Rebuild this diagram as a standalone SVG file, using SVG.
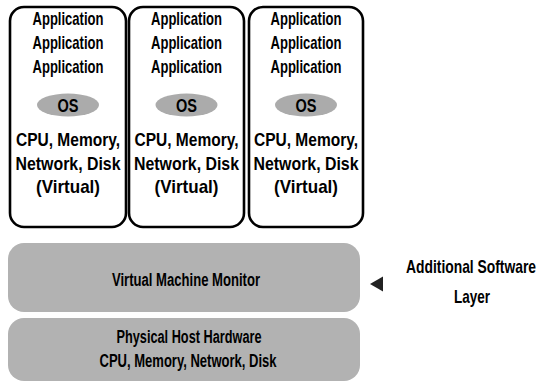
<svg xmlns="http://www.w3.org/2000/svg" width="549" height="388" viewBox="0 0 549 388">
<style>
.vm{fill:#fff;stroke:#000;stroke-width:2.6}
.pill{fill:#ababab}
.band{fill:#b2b2b2}
text{font-family:"Liberation Sans","DejaVu Sans",sans-serif;font-weight:bold;fill:#000;text-anchor:middle}
.t{font-size:19px}
.s{font-size:18px}
</style>
<rect width="549" height="388" fill="#fff"/>
<g id="vm1">
<rect class="vm" x="10" y="7" width="116" height="220" rx="14"/>
<text class="t" x="68" y="25" textLength="71" lengthAdjust="spacingAndGlyphs">Application</text>
<text class="t" x="68" y="49" textLength="71" lengthAdjust="spacingAndGlyphs">Application</text>
<text class="t" x="68" y="73" textLength="71" lengthAdjust="spacingAndGlyphs">Application</text>
<ellipse class="pill" cx="68" cy="105" rx="31" ry="11.5"/>
<text class="t" x="68" y="111.5" textLength="21" lengthAdjust="spacingAndGlyphs">OS</text>
<text class="t" x="68" y="146" textLength="104" lengthAdjust="spacingAndGlyphs">CPU, Memory,</text>
<text class="t" x="68" y="170" textLength="105" lengthAdjust="spacingAndGlyphs">Network, Disk</text>
<text class="t" x="68" y="193" textLength="64" lengthAdjust="spacingAndGlyphs">(Virtual)</text>
</g>
<g id="vm2">
<rect class="vm" x="129" y="7" width="115" height="220" rx="14"/>
<text class="t" x="186.5" y="25" textLength="71" lengthAdjust="spacingAndGlyphs">Application</text>
<text class="t" x="186.5" y="49" textLength="71" lengthAdjust="spacingAndGlyphs">Application</text>
<text class="t" x="186.5" y="73" textLength="71" lengthAdjust="spacingAndGlyphs">Application</text>
<ellipse class="pill" cx="186.5" cy="105" rx="31" ry="11.5"/>
<text class="t" x="186.5" y="111.5" textLength="21" lengthAdjust="spacingAndGlyphs">OS</text>
<text class="t" x="186.5" y="146" textLength="104" lengthAdjust="spacingAndGlyphs">CPU, Memory,</text>
<text class="t" x="186.5" y="170" textLength="105" lengthAdjust="spacingAndGlyphs">Network, Disk</text>
<text class="t" x="186.5" y="193" textLength="64" lengthAdjust="spacingAndGlyphs">(Virtual)</text>
</g>
<g id="vm3">
<rect class="vm" x="249" y="7" width="114" height="220" rx="14"/>
<text class="t" x="306" y="25" textLength="71" lengthAdjust="spacingAndGlyphs">Application</text>
<text class="t" x="306" y="49" textLength="71" lengthAdjust="spacingAndGlyphs">Application</text>
<text class="t" x="306" y="73" textLength="71" lengthAdjust="spacingAndGlyphs">Application</text>
<ellipse class="pill" cx="306" cy="105" rx="31" ry="11.5"/>
<text class="t" x="306" y="111.5" textLength="21" lengthAdjust="spacingAndGlyphs">OS</text>
<text class="t" x="306" y="146" textLength="104" lengthAdjust="spacingAndGlyphs">CPU, Memory,</text>
<text class="t" x="306" y="170" textLength="105" lengthAdjust="spacingAndGlyphs">Network, Disk</text>
<text class="t" x="306" y="193" textLength="64" lengthAdjust="spacingAndGlyphs">(Virtual)</text>
</g>
<g id="vmm">
<rect class="band" x="8" y="243" width="352" height="69" rx="16"/>
<text class="s" x="186" y="286" textLength="148" lengthAdjust="spacingAndGlyphs">Virtual Machine Monitor</text>
</g>
<g id="hardware">
<rect class="band" x="8" y="318" width="352" height="63" rx="16"/>
<text class="s" x="189" y="343" textLength="145" lengthAdjust="spacingAndGlyphs">Physical Host Hardware</text>
<text class="s" x="188" y="367" textLength="177" lengthAdjust="spacingAndGlyphs">CPU, Memory, Network, Disk</text>
</g>
<g id="label">
<text class="s" transform="translate(471,273) scale(0.77,1)" x="0" y="0">Additional Software</text>
<text class="s" transform="translate(472,303) scale(0.75,1)" x="0" y="0">Layer</text>
</g>
<g id="connectors">
<polygon points="370,284 383,276.5 383,291.5" fill="#222"/>
</g>
</svg>
